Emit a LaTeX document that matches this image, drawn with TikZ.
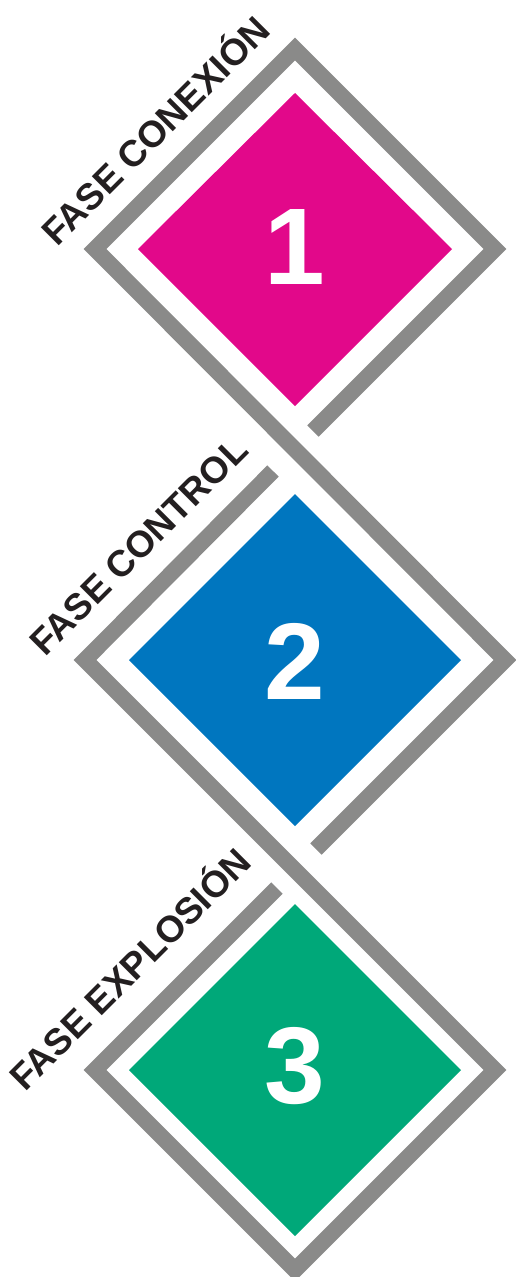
\documentclass[tikz,border=0pt]{standalone}
\usepackage{fontspec}
\setmainfont{Liberation Sans}
\definecolor{framegray}{RGB}{138,138,137}
\definecolor{phasepink}{RGB}{226,8,138}
\definecolor{phaseblue}{RGB}{0,118,191}
\definecolor{phasegreen}{RGB}{0,168,121}
\definecolor{labelblack}{RGB}{35,31,32}
\begin{document}
\begin{tikzpicture}[x=1pt,y=-1pt,
	band/.style={draw=framegray, line width=16pt, line join=miter, line cap=butt},
	phaselabel/.style={anchor=base west, inner sep=0pt, rotate=45, text=labelblack,
		font=\fontsize{37}{37}\selectfont\bfseries},
	phasenum/.style={text=white, inner sep=0pt, font=\fontsize{109}{109}\selectfont\bfseries}]
	
	\useasboundingbox (0,0) rectangle (515,1277);
	
	% keret csucsai
	\coordinate (top1) at (295,49);
	\coordinate (left1) at (95,249);
	\coordinate (right1) at (495,249);
	\coordinate (left2) at (85,660);
	\coordinate (right2) at (505,660);
	\coordinate (left3) at (95,1070);
	\coordinate (right3) at (495,1070);
	\coordinate (bottom3) at (295,1270);
	
	% resek a keresztezodeseknel
	\coordinate (gapA) at (313,431);
	\coordinate (gapB) at (273,471);
	\coordinate (gapC) at (316,849);
	\coordinate (gapD) at (277,888);
	
	% szines rombuszok
	\fill[phasepink] (295,93) -- (452,249) -- (295,406) -- (138,249) -- cycle;
	\fill[phaseblue] (295,494) -- (461,660) -- (295,826) -- (129,660) -- cycle;
	\fill[phasegreen] (295,904) -- (461,1070) -- (295,1236) -- (129,1070) -- cycle;
	
	% szurke keret
	\draw[band] (gapA) -- (right1) -- (top1) -- (left1) -- (right2) -- (gapC);
	\draw[band] (gapB) -- (left2) -- (right3) -- (bottom3) -- (left3) -- (gapD);
	
	% szamok
	\node[phasenum] (num1) at (295,247) {1};
	\node[phasenum] (num2) at (295,661) {2};
	\node[phasenum] (num3) at (295,1066) {3};
	
	% feliratok
	\node[phaselabel] (label1) at (57,248) {FASE CONEXIÓN};
	\node[phaselabel] (label2) at (45,658) {FASE CONTROL};
	\node[phaselabel] (label3) at (25,1093) {FASE EXPLOSIÓN};
	
\end{tikzpicture}
\end{document}
